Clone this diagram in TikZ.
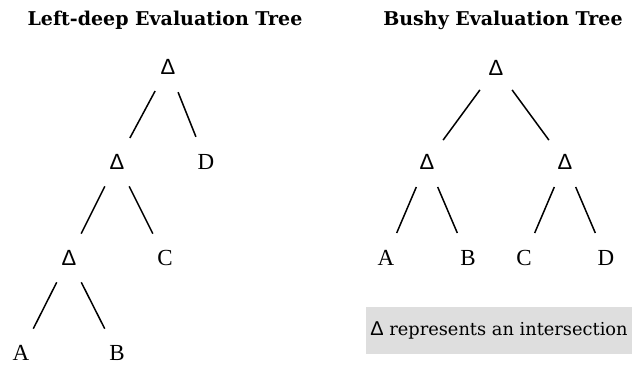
\documentclass[tikz,border=0pt]{standalone}
\usepackage{fontspec}
\setmainfont{Liberation Serif}
\newfontfamily\titlefont{DejaVu Serif}
\newfontfamily\deltafont{Liberation Sans}
\definecolor{legendgray}{HTML}{DEDEDE}
\begin{document}
\begin{tikzpicture}[x=1pt,y=-1pt,
  opnode/.style={circle, minimum size=54pt, inner sep=0pt, font=\deltafont\fontsize{22}{22}\selectfont},
  leafnode/.style={circle, minimum size=54pt, inner sep=0pt, font=\fontsize{23}{23}\selectfont},
  treeedge/.style={line width=1.5pt, black},
  titlenode/.style={anchor=base, inner sep=0pt, font=\titlefont\bfseries\fontsize{19}{19}\selectfont},
  legendnode/.style={fill=legendgray, minimum width=266pt, minimum height=47pt, inner sep=0pt, font=\titlefont\fontsize{17.8}{19}\selectfont}]
\useasboundingbox (0,0) rectangle (632,365);
% titles
\node[titlenode] (t1) at (165,25) {Left-deep Evaluation Tree};
\node[titlenode] (t2) at (503,25) {Bushy Evaluation Tree};
% left-deep tree
\node[opnode] (l1) at (168,67) {Δ};
\node[opnode] (l2) at (117,162) {Δ};
\node[leafnode] (lD) at (206,162) {D};
\node[opnode] (l3) at (69,258) {Δ};
\node[leafnode] (lC) at (165,258) {C};
\node[leafnode] (lA) at (21,353) {A};
\node[leafnode] (lB) at (117,353) {B};
\draw[treeedge] (l1) -- (l2);
\draw[treeedge] (l1) -- (lD);
\draw[treeedge] (l2) -- (l3);
\draw[treeedge] (l2) -- (lC);
\draw[treeedge] (l3) -- (lA);
\draw[treeedge] (l3) -- (lB);
% bushy tree
\node[opnode] (r1) at (496,68) {Δ};
\node[opnode] (r2) at (427,162) {Δ};
\node[opnode] (r3) at (565,162) {Δ};
\node[leafnode] (rA) at (386,258) {A};
\node[leafnode] (rB) at (468,258) {B};
\node[leafnode] (rC) at (524,258) {C};
\node[leafnode] (rD) at (606,258) {D};
\draw[treeedge] (r1) -- (r2);
\draw[treeedge] (r1) -- (r3);
\draw[treeedge] (r2) -- (rA);
\draw[treeedge] (r2) -- (rB);
\draw[treeedge] (r3) -- (rC);
\draw[treeedge] (r3) -- (rD);
% legend
\node[legendnode] (legend) at (499,330.5) {{\deltafont\fontsize{20}{20}\selectfont Δ} represents an intersection};
\end{tikzpicture}
\end{document}
